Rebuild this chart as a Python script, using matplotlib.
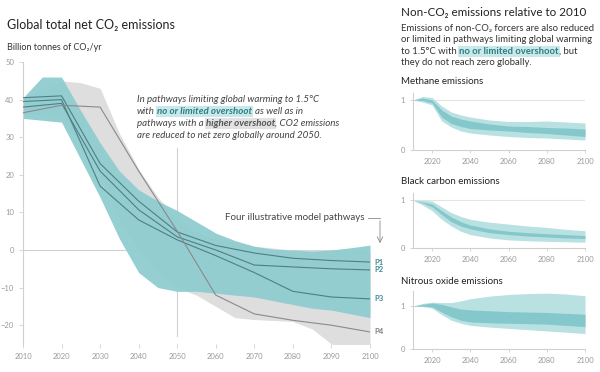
import matplotlib
matplotlib.use("Agg")
import matplotlib.pyplot as plt

plt.rcParams['font.family'] = ['Lato', 'DejaVu Sans']

# ---------------- main panel data (Gt CO2/yr)
grey_years = [2010, 2015, 2020, 2025, 2030, 2035, 2040, 2045, 2050, 2055, 2060, 2065, 2070, 2080, 2085, 2090, 2100]
grey_hi = [40, 43, 45, 44.5, 43, 31, 21.5, 14, 8, 5, 3, 2, 1, 0, 0, 0, 0]
grey_lo = [36, 36, 35, 28, 20, 8, 0, -6, -10, -12, -15, -18, -18.5, -19, -21, -25, -28]

teal_years = [2010, 2015, 2020, 2025, 2030, 2035, 2040, 2045, 2050, 2055, 2060, 2065, 2070, 2075, 2080, 2085, 2090, 2095, 2100]
teal_hi = [40.5, 46, 46, 37, 28.5, 21, 16, 13, 10.5, 7.5, 4.5, 2.5, 1, 0.2, 0, -0.3, 0, 0.6, 1.3]
teal_lo = [35, 34.5, 34, 24, 14, 3, -6, -10, -11, -11, -11.5, -12, -12.5, -13.5, -14.5, -15.5, -16, -17, -18]

path_years = [2010, 2020, 2030, 2040, 2050, 2060, 2070, 2080, 2090, 2100]
p1 = [40.5, 41, 23, 13, 4.8, 1.2, -0.8, -2.2, -2.8, -3.2]
p2 = [38, 39, 21, 10.7, 3.5, 0, -4, -4.5, -5, -5.3]
p3 = [39.5, 40, 17, 8, 2.7, -1.5, -6, -11, -12.5, -13]
p4 = [36.5, 38.5, 38, 21, 5, -12, -17, -18.7, -20, -21.8]
path_names = ['P1', 'P2', 'P3', 'P4']

# ---------------- non-CO2 panels (relative to 2010)
nc_years = [2010, 2015, 2020, 2025, 2030, 2035, 2040, 2050, 2060, 2070, 2080, 2090, 2100]
meth_out_hi = [1.0, 1.07, 1.05, 0.88, 0.76, 0.7, 0.66, 0.6, 0.57, 0.57, 0.58, 0.56, 0.54]
meth_out_lo = [1.0, 0.96, 0.9, 0.58, 0.46, 0.38, 0.34, 0.3, 0.27, 0.25, 0.24, 0.22, 0.2]
meth_in_hi = [1.0, 1.04, 1.0, 0.8, 0.68, 0.62, 0.58, 0.52, 0.48, 0.47, 0.45, 0.44, 0.42]
meth_in_lo = [1.0, 0.99, 0.94, 0.66, 0.53, 0.47, 0.43, 0.4, 0.38, 0.35, 0.33, 0.3, 0.27]

bc_out_hi = [1.0, 1.0, 0.98, 0.86, 0.74, 0.66, 0.6, 0.54, 0.5, 0.46, 0.43, 0.39, 0.36]
bc_out_lo = [1.0, 0.9, 0.78, 0.6, 0.46, 0.35, 0.28, 0.21, 0.17, 0.15, 0.14, 0.13, 0.12]
bc_in_hi = [1.0, 0.96, 0.92, 0.78, 0.65, 0.55, 0.48, 0.4, 0.35, 0.32, 0.3, 0.28, 0.26]
bc_in_lo = [1.0, 0.94, 0.86, 0.7, 0.55, 0.46, 0.4, 0.32, 0.28, 0.25, 0.23, 0.21, 0.2]

n2o_out_hi = [1.0, 1.06, 1.09, 1.08, 1.08, 1.12, 1.17, 1.23, 1.27, 1.29, 1.3, 1.28, 1.24]
n2o_out_lo = [1.0, 0.99, 0.95, 0.8, 0.67, 0.6, 0.55, 0.51, 0.48, 0.45, 0.42, 0.39, 0.36]
n2o_in_hi = [1.0, 1.04, 1.07, 1.04, 0.98, 0.93, 0.91, 0.89, 0.87, 0.86, 0.85, 0.83, 0.81]
n2o_in_lo = [1.0, 1.0, 0.98, 0.86, 0.75, 0.67, 0.63, 0.61, 0.6, 0.59, 0.58, 0.55, 0.52]

TEAL = '#8fcdd0'
GREY = '#dedede'
LINE = '#4f7f85'
TICK = '#9a9a9a'
SPINE = '#d0d0d0'

fig = plt.figure(figsize=(6, 3.72), dpi=100)

def px(x, y):
    return x / 600, 1 - y / 372

# ---------------- main chart
ax = fig.add_axes([23/600, 28/372, 347/600, 282/372])
ax.set_xlim(2010, 2100)
ax.set_ylim(-25, 50)
ax.plot([2050, 2050], [-23, 27], color=SPINE, lw=0.8, zorder=0)
ax.axhline(0, color=SPINE, lw=0.8, zorder=0)
ax.fill_between(grey_years, grey_lo, grey_hi, color=GREY, lw=0, zorder=1)
ax.fill_between(teal_years, teal_lo, teal_hi, color=TEAL, lw=0, alpha=0.95, zorder=2)
for vals in [p1, p2, p3]:
    ax.plot(path_years, vals, color=LINE, lw=0.8, zorder=3)
ax.plot(path_years, p4, color='#8a8a8a', lw=0.8, zorder=3)

for s in ['top', 'right', 'bottom']:
    ax.spines[s].set_visible(False)
ax.spines['left'].set_color(SPINE)
ax.set_xticks(range(2010, 2101, 10))
ax.set_yticks([-20, -10, 0, 10, 20, 30, 40, 50])
ax.tick_params(labelsize=5.5, colors=SPINE, labelcolor=TICK, length=3, width=0.6)

for name, vals, c in zip(path_names, [p1, p2, p3, p4], ['#3f8c93', '#3f8c93', '#3f8c93', '#808080']):
    ax.annotate(name, (2100, vals[-1]), xytext=(3, 0), textcoords='offset points',
                fontsize=5.5, color=c, va='center', fontweight='bold')

fig.text(*px(365, 218), 'Four illustrative model pathways', fontsize=7, color='#444444',
         ha='right', va='center')
fig.add_artist(plt.Line2D([368/600, 380/600], [1 - 218/372, 1 - 218/372], color='#888888', lw=0.6))
ax.annotate('', xy=px(380, 246), xytext=px(380, 218), xycoords='figure fraction',
            textcoords='figure fraction',
            arrowprops=dict(arrowstyle='->', color='#888888', lw=0.6))

# ---------------- non-CO2 panels
def small_panel(rect, lo_o, hi_o, lo_i, hi_i, ytop):
    a = fig.add_axes(rect)
    a.fill_between(nc_years, lo_o, hi_o, color='#b9e1e2', lw=0)
    a.fill_between(nc_years, lo_i, hi_i, color='#84c8cb', lw=0)
    a.axhline(1, color='#e4e4e4', lw=0.8, zorder=0)
    a.set_xlim(2010, 2100)
    a.set_ylim(0, ytop)
    a.set_xticks([2020, 2040, 2060, 2080, 2100])
    a.set_yticks([0, 1])
    for s in ['top', 'right']:
        a.spines[s].set_visible(False)
    for s in ['left', 'bottom']:
        a.spines[s].set_color(SPINE)
    a.tick_params(labelsize=5.5, colors=SPINE, labelcolor=TICK, length=2, width=0.6)
    return a

small_panel([413/600, 222/372, 172/600, 57.5/372], meth_out_lo, meth_out_hi, meth_in_lo, meth_in_hi, 1.15)
small_panel([413/600, 124/372, 172/600, 55/372], bc_out_lo, bc_out_hi, bc_in_lo, bc_in_hi, 1.15)
small_panel([413/600, 23/372, 172/600, 58/372], n2o_out_lo, n2o_out_hi, n2o_in_lo, n2o_in_hi, 1.35)

# ---------------- text
fig.text(*px(7, 25), 'Global total net CO₂ emissions', fontsize=9, color='#222222', va='center')
fig.text(*px(7, 47), 'Billion tonnes of CO₂/yr', fontsize=6.5, color='#333333', va='center')
fig.text(*px(401, 12), 'Non-CO₂ emissions relative to 2010', fontsize=8.4, color='#222222', va='center')
fig.text(*px(401, 81), 'Methane emissions', fontsize=7, color='#222222', va='center')
fig.text(*px(401, 181), 'Black carbon emissions', fontsize=7, color='#222222', va='center')
fig.text(*px(401, 281), 'Nitrous oxide emissions', fontsize=7, color='#222222', va='center')

renderer = fig.canvas.get_renderer()

def rich(x, y, parts, size, color, style='normal'):
    # parts: (text, kind) ; kind None / 'teal' / 'grey'
    def width(s):
        t = fig.text(0, 0, s, fontsize=size, fontstyle=style)
        w = t.get_window_extent(renderer).width
        t.remove()
        return w
    space = width('a a') - width('aa')
    cx = x
    for txt, kind in parts:
        core = txt.strip()
        if txt.startswith(' '):
            cx += space
        kw = dict(fontsize=size, fontstyle=style, va='center', color=color)
        if kind == 'teal':
            kw.update(fontweight='bold', color='#2e7d84',
                      bbox=dict(boxstyle='square,pad=0.12', fc='#c8e8e9', ec='none'))
        elif kind == 'grey':
            kw.update(fontweight='bold', color='#555555',
                      bbox=dict(boxstyle='square,pad=0.12', fc='#e2e2e2', ec='none'))
        t = fig.text(cx / 600, 1 - y / 372, core, **kw)
        cx += t.get_window_extent(renderer).width
        if txt.endswith(' '):
            cx += space

ann = [
    [('In pathways limiting global warming to 1.5°C', None)],
    [('with ', None), ('no or limited overshoot', 'teal'), (' as well as in', None)],
    [('pathways with a ', None), ('higher overshoot', 'grey'), (', CO2 emissions', None)],
    [('are reduced to net zero globally around 2050.', None)],
]
for i, parts in enumerate(ann):
    rich(137, 100 + i * 11.7, parts, 7, '#444444', 'italic')

para = [
    [('Emissions of non-CO₂ forcers are also reduced', None)],
    [('or limited in pathways limiting global warming', None)],
    [('to 1.5°C with ', None), ('no or limited overshoot', 'teal'), (', but', None)],
    [('they do not reach zero globally.', None)],
]
for i, parts in enumerate(para):
    rich(401, 28 + i * 11.6, parts, 6.8, '#333333')

fig.savefig('out.png', dpi=100)
